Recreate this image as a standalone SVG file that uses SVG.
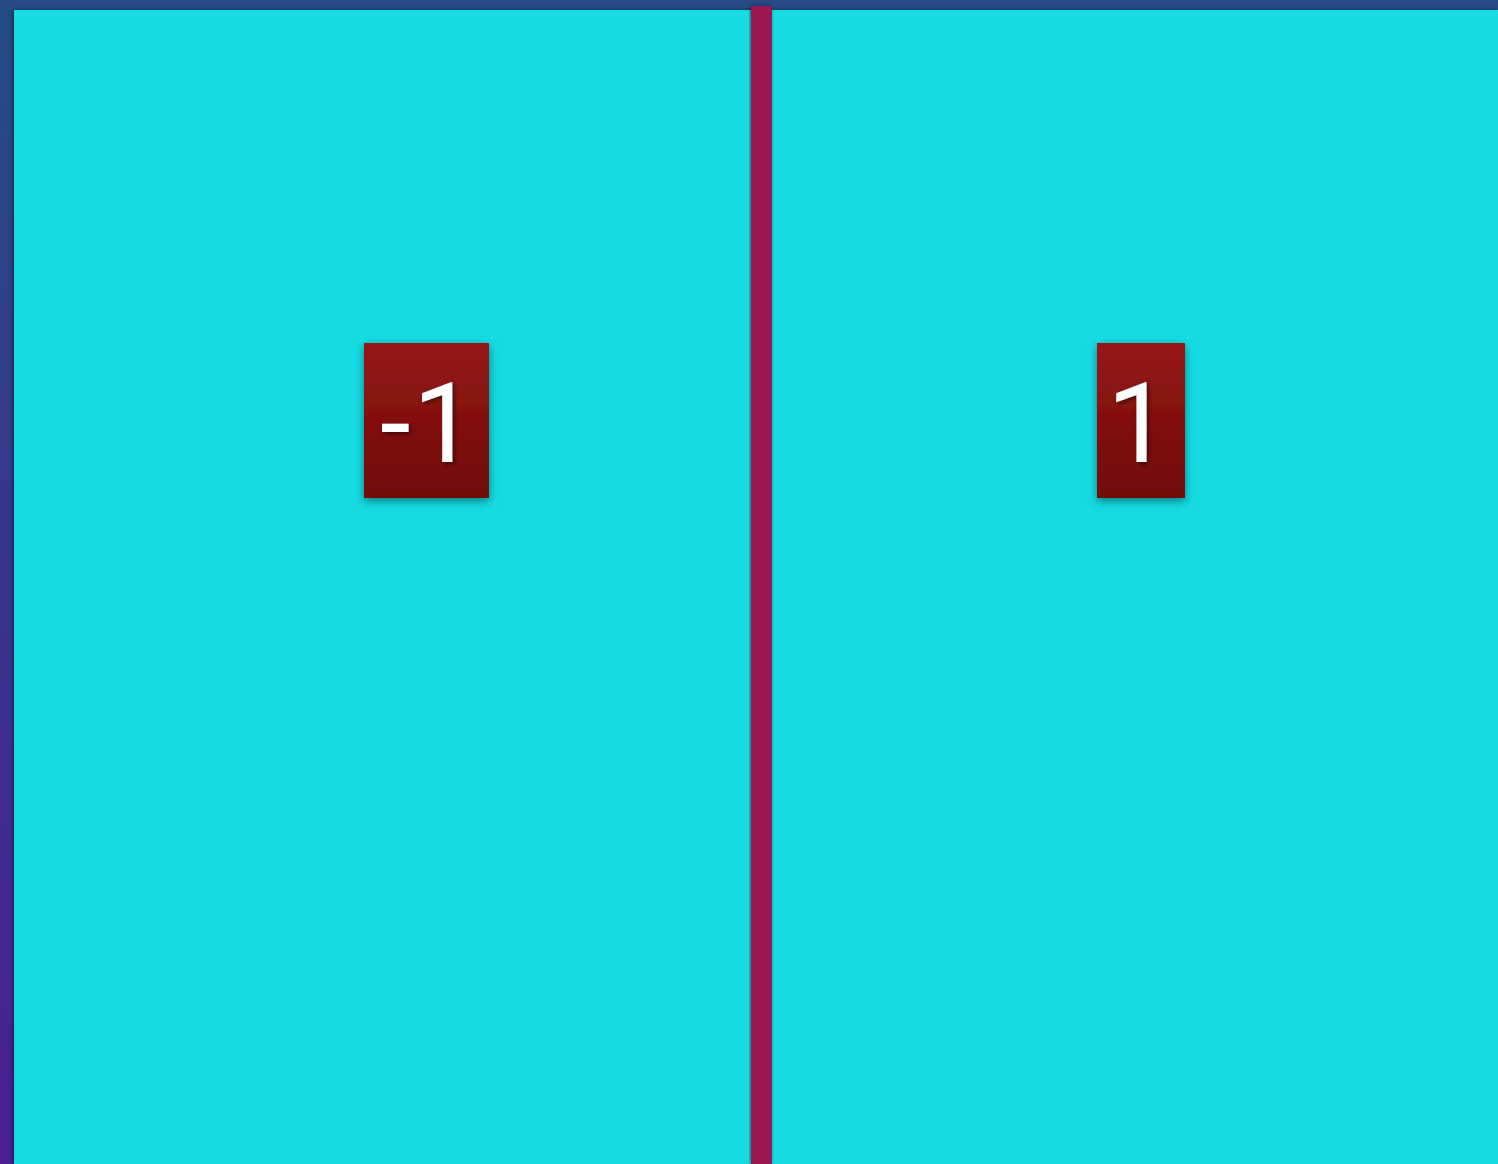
<svg xmlns="http://www.w3.org/2000/svg" width="1498" height="1164" viewBox="0 0 1498 1164">
<defs>
<linearGradient id="bg" x1="0" y1="0" x2="0" y2="1"><stop offset="0" stop-color="#254b86"/><stop offset="1" stop-color="#4a1f93"/></linearGradient>
<linearGradient id="red" x1="0" y1="0" x2="0" y2="1"><stop offset="0" stop-color="#961717"/><stop offset="1" stop-color="#710a06"/></linearGradient>
<filter id="sh" x="-30%" y="-30%" width="160%" height="160%"><feDropShadow dx="0" dy="3" stdDeviation="5" flood-color="#000" flood-opacity="0.45"/></filter>
<filter id="psh" x="-5%" y="-5%" width="110%" height="110%"><feDropShadow dx="-1" dy="0" stdDeviation="2" flood-color="#000" flood-opacity="0.5"/></filter>
<filter id="tsh" x="-20%" y="-20%" width="140%" height="140%"><feDropShadow dx="2" dy="2" stdDeviation="2" flood-color="#000" flood-opacity="0.5"/></filter>
<style>
.num{font-family:Roboto,"Liberation Sans",sans-serif;font-weight:400;font-size:111px;fill:#fff;filter:url(#tsh)}
</style>
</defs>
<rect width="1498" height="1164" fill="url(#bg)"/>
<rect x="14" y="10" width="1484" height="1154" fill="#12dbe3" filter="url(#psh)"/>
<rect x="751" y="6" width="21" height="1158" fill="#9c1551" filter="url(#psh)"/>
<g id="node-neg1">
<rect x="364" y="343" width="125" height="155" fill="url(#red)" filter="url(#sh)"/>
<text class="num" x="380" y="462" letter-spacing="2">-1</text>
</g>
<g id="node-1">
<rect x="1097" y="343" width="88" height="155" fill="url(#red)" filter="url(#sh)"/>
<text class="num" x="1107" y="462">1</text>
</g>
<g id="connectors"></g>
</svg>
